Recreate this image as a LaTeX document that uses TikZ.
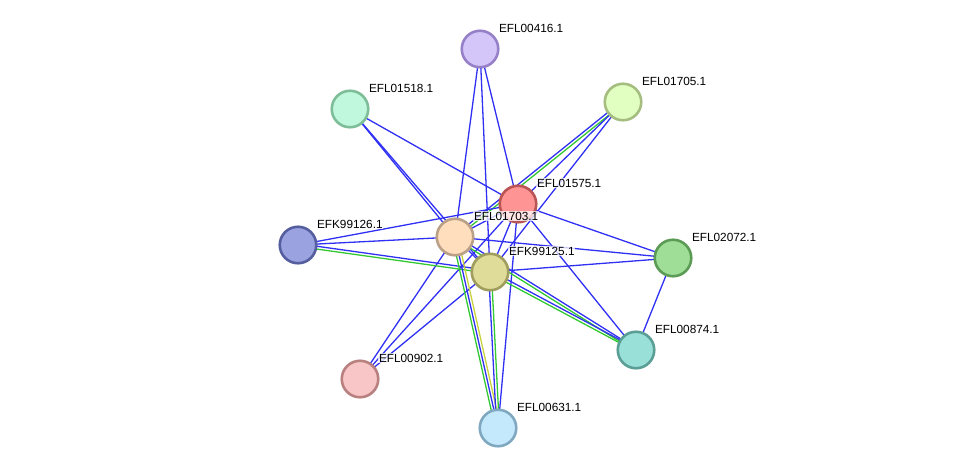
\documentclass[tikz,border=0pt]{standalone}
\usepackage{fontspec}
\setmainfont{Liberation Sans}
\usetikzlibrary{calc,backgrounds}

\definecolor{linkblue}{RGB}{48,48,245}
\definecolor{linkgreen}{RGB}{50,200,50}
\definecolor{linkyellow}{RGB}{200,210,60}

% one line of a link, shifted sideways by #3
\newcommand{\link}[4]{\draw[#4] ($(#1)!#3!90:(#2)$) -- ($(#2)!#3!-90:(#1)$);}

\begin{document}
\begin{tikzpicture}[x=1pt,y=-1pt,
			prot/.style={shape=circle, minimum size=36.5pt, inner sep=0pt, line width=2.6pt},
			lab/.style={anchor=base west, font=\fontsize{11.8}{13}\selectfont, fill=white, fill opacity=0.75, text opacity=1, inner sep=0.8pt},
			bl/.style={draw=linkblue, line width=1.3pt},
			gr/.style={draw=linkgreen, line width=1.3pt},
			ye/.style={draw=linkyellow, line width=1.3pt}]
			
			\useasboundingbox (0,0) rectangle (976,474);

			% proteins
			\node[prot, fill={rgb,255:red,213;green,198;blue,250}, draw={rgb,255:red,150;green,128;blue,200}] (e00416) at (480,49) {};
			\node[prot, fill={rgb,255:red,226;green,255;blue,194}, draw={rgb,255:red,165;green,190;blue,128}] (e01705) at (623,102) {};
			\node[prot, fill={rgb,255:red,192;green,248;blue,222}, draw={rgb,255:red,125;green,190;blue,152}] (e01518) at (350,109) {};
			\node[prot, fill={rgb,255:red,255;green,148;blue,148}, draw={rgb,255:red,185;green,85;blue,85}] (e01575) at (518,204) {};
			\node[prot, fill={rgb,255:red,255;green,222;blue,190}, draw={rgb,255:red,185;green,160;blue,135}] (e01703) at (455,237) {};
			\node[prot, fill={rgb,255:red,154;green,162;blue,224}, draw={rgb,255:red,85;green,95;blue,160}] (k99126) at (298,245) {};
			\node[prot, fill={rgb,255:red,222;green,220;blue,152}, draw={rgb,255:red,160;green,158;blue,95}] (k99125) at (490,272) {};
			\node[prot, fill={rgb,255:red,158;green,222;blue,150}, draw={rgb,255:red,92;green,155;blue,85}] (e02072) at (673,258) {};
			\node[prot, fill={rgb,255:red,152;green,224;blue,216}, draw={rgb,255:red,90;green,158;blue,150}] (e00874) at (636,350) {};
			\node[prot, fill={rgb,255:red,248;green,198;blue,198}, draw={rgb,255:red,185;green,128;blue,128}] (e00902) at (360,379) {};
			\node[prot, fill={rgb,255:red,196;green,232;blue,252}, draw={rgb,255:red,128;green,168;blue,192}] (e00631) at (498,428) {};

			% links
			\begin{scope}[on background layer]
				\link{e00416}{e01575}{0pt}{bl}
				\link{e00416}{e01703}{0pt}{bl}
				\link{e00416}{k99125}{0pt}{bl}
				\link{e01705}{e01703}{1.4pt}{gr}
				\link{e01705}{e01703}{-1.4pt}{bl}
				\link{e01705}{e01575}{0pt}{bl}
				\link{e01705}{k99125}{0pt}{bl}
				\link{e01518}{e01575}{0pt}{bl}
				\link{e01518}{e01703}{0pt}{bl}
				\link{e01518}{k99125}{0pt}{bl}
				\link{e01575}{e01703}{0pt}{bl}
				\link{e01575}{k99125}{0pt}{bl}
				\link{e01575}{k99126}{0pt}{bl}
				\link{e01575}{e02072}{0pt}{bl}
				\link{e01575}{e00874}{0pt}{bl}
				\link{e01575}{e00631}{0pt}{bl}
				\link{e01575}{e00902}{0pt}{bl}
				\link{e01703}{k99126}{0pt}{bl}
				\link{e01703}{e02072}{0pt}{bl}
				\link{e01703}{e00902}{0pt}{bl}
				\link{e01703}{k99125}{0pt}{bl}
				\link{k99125}{e02072}{0pt}{bl}
				\link{k99125}{e00902}{0pt}{bl}
				\link{e02072}{e00874}{0pt}{bl}
				\link{k99126}{k99125}{1.4pt}{bl}
				\link{k99126}{k99125}{-1.4pt}{gr}
				\link{e01703}{e00874}{1.4pt}{bl}
				\link{e01703}{e00874}{-1.4pt}{gr}
				\link{k99125}{e00874}{1.4pt}{bl}
				\link{k99125}{e00874}{-1.4pt}{gr}
				\link{e01703}{e00631}{2.7pt}{ye}
				\link{e01703}{e00631}{0pt}{bl}
				\link{e01703}{e00631}{-2.7pt}{gr}
				\link{k99125}{e00631}{1.4pt}{gr}
				\link{k99125}{e00631}{-1.4pt}{bl}
			\end{scope}

			% names
			\node[lab] (n00416) at ($(e00416)+(18,-17)$) {EFL00416.1};
			\node[lab] (n01705) at ($(e01705)+(18,-17)$) {EFL01705.1};
			\node[lab] (n01518) at ($(e01518)+(18,-17)$) {EFL01518.1};
			\node[lab] (n01575) at ($(e01575)+(18,-17)$) {EFL01575.1};
			\node[lab] (n01703) at ($(e01703)+(18,-17)$) {EFL01703.1};
			\node[lab] (n99126) at ($(k99126)+(18,-17)$) {EFK99126.1};
			\node[lab] (n99125) at ($(k99125)+(18,-17)$) {EFK99125.1};
			\node[lab] (n02072) at ($(e02072)+(18,-17)$) {EFL02072.1};
			\node[lab] (n00874) at ($(e00874)+(18,-17)$) {EFL00874.1};
			\node[lab] (n00902) at ($(e00902)+(18,-17)$) {EFL00902.1};
			\node[lab] (n00631) at ($(e00631)+(18,-17)$) {EFL00631.1};
\end{tikzpicture}
\end{document}
